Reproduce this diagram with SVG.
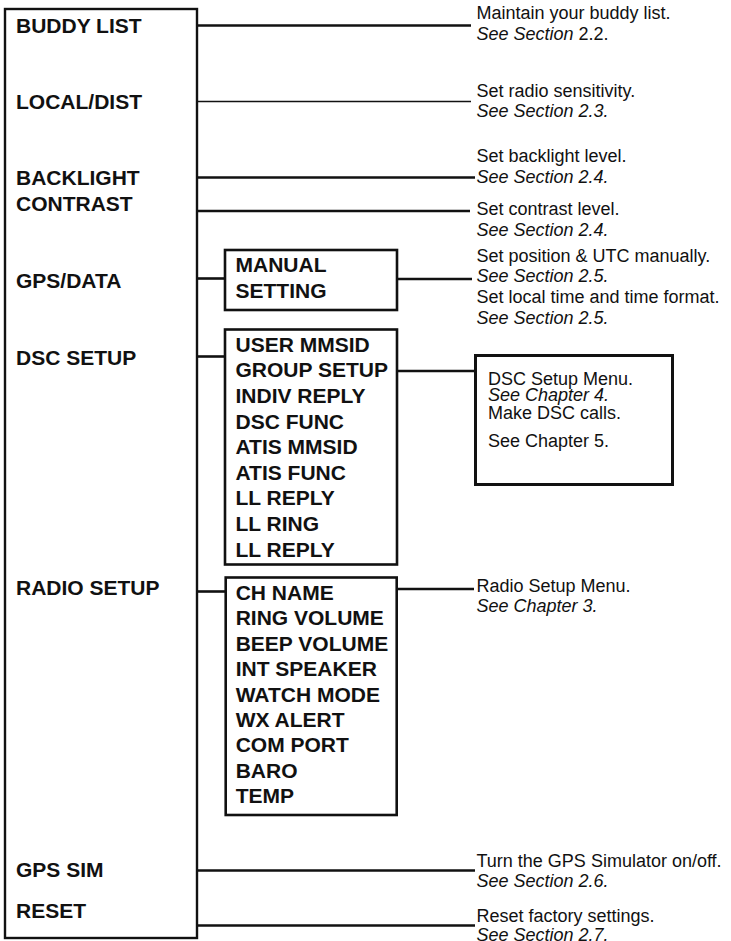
<svg xmlns="http://www.w3.org/2000/svg" width="731" height="941" viewBox="0 0 731 941">
<style>
.box{fill:#fff;stroke:#111;stroke-width:2.4}
.b{font-family:"Liberation Sans",Arial,sans-serif;font-weight:bold;font-size:21px;fill:#111}
.t{font-family:"Liberation Sans",Arial,sans-serif;font-size:18px;fill:#111}
.i{font-style:italic}
.ln{stroke:#111;stroke-width:2.6;fill:none}
</style>
<rect width="731" height="941" fill="#fff"/>
<g id="connectors">
<line class="ln" x1="197" y1="25.5" x2="471" y2="25.5"/>
<line class="ln" x1="197" y1="101.5" x2="471" y2="101.5" style="stroke-width:1.7"/>
<line class="ln" x1="197" y1="177.5" x2="475" y2="177.5"/>
<line class="ln" x1="197" y1="211" x2="470" y2="211"/>
<line class="ln" x1="197" y1="278.5" x2="225" y2="278.5"/>
<line class="ln" x1="397" y1="279" x2="472" y2="279"/>
<line class="ln" x1="197" y1="356.5" x2="225" y2="356.5"/>
<line class="ln" x1="397" y1="371" x2="475" y2="371"/>
<line class="ln" x1="197" y1="591.5" x2="225" y2="591.5"/>
<line class="ln" x1="397" y1="589" x2="474" y2="589"/>
<line class="ln" x1="197" y1="870.5" x2="475" y2="870.5"/>
<line class="ln" x1="197" y1="925.5" x2="475" y2="925.5"/>
</g>
<g id="main-menu">
<rect class="box" x="5" y="9" width="192" height="929"/>
<text class="b" x="16" y="32.5">BUDDY LIST</text>
<text class="b" x="16" y="108.5">LOCAL/DIST</text>
<text class="b" x="16" y="185">BACKLIGHT</text>
<text class="b" x="16" y="210.7">CONTRAST</text>
<text class="b" x="16" y="288.3">GPS/DATA</text>
<text class="b" x="16" y="365">DSC SETUP</text>
<text class="b" x="16" y="595">RADIO SETUP</text>
<text class="b" x="16" y="876.7">GPS SIM</text>
<text class="b" x="16" y="918.3">RESET</text>
</g>
<g id="gps-submenu">
<rect class="box" x="225" y="250" width="172" height="60" style="stroke-width:2.6"/>
<text class="b" x="235.5" y="271.7">MANUAL</text>
<text class="b" x="235.5" y="297.7">SETTING</text>
</g>
<g id="dsc-submenu">
<rect class="box" x="225" y="329.5" width="172" height="235" style="stroke-width:2.6"/>
<text class="b" x="235.5" y="351.7">USER MMSID</text>
<text class="b" x="235.5" y="377.3">GROUP SETUP</text>
<text class="b" x="235.5" y="402.9">INDIV REPLY</text>
<text class="b" x="235.5" y="428.5">DSC FUNC</text>
<text class="b" x="235.5" y="454.1">ATIS MMSID</text>
<text class="b" x="235.5" y="479.7">ATIS FUNC</text>
<text class="b" x="235.5" y="505.3">LL REPLY</text>
<text class="b" x="235.5" y="530.9">LL RING</text>
<text class="b" x="235.5" y="556.5">LL REPLY</text>
</g>
<g id="radio-submenu">
<rect class="box" x="225.7" y="577.5" width="171" height="237.5" style="stroke-width:2.6"/>
<text class="b" x="235.7" y="600">CH NAME</text>
<text class="b" x="235.7" y="625.4">RING VOLUME</text>
<text class="b" x="235.7" y="650.8">BEEP VOLUME</text>
<text class="b" x="235.7" y="676.2">INT SPEAKER</text>
<text class="b" x="235.7" y="701.6">WATCH MODE</text>
<text class="b" x="235.7" y="727">WX ALERT</text>
<text class="b" x="235.7" y="752.4">COM PORT</text>
<text class="b" x="235.7" y="777.8">BARO</text>
<text class="b" x="235.7" y="803.2">TEMP</text>
</g>
<g id="desc-buddy">
<text class="t" x="476.5" y="19">Maintain your buddy list.</text>
<text class="t" x="476.5" y="40"><tspan class="i">See Section</tspan> 2.2.</text>
</g>
<g id="desc-local">
<text class="t" x="476.5" y="96.7">Set radio sensitivity.</text>
<text class="t i" x="476.5" y="117">See Section 2.3.</text>
</g>
<g id="desc-backlight">
<text class="t" x="476.5" y="161.7">Set backlight level.</text>
<text class="t i" x="476.5" y="182.5">See Section 2.4.</text>
</g>
<g id="desc-contrast">
<text class="t" x="476.5" y="215.3">Set contrast level.</text>
<text class="t i" x="476.5" y="236.3">See Section 2.4.</text>
</g>
<g id="desc-gps">
<text class="t" x="476.5" y="261.7">Set position &amp; UTC manually.</text>
<text class="t i" x="476.5" y="282">See Section 2.5.</text>
<text class="t" x="476.5" y="303.3">Set local time and time format.</text>
<text class="t i" x="476.5" y="324">See Section 2.5.</text>
</g>
<g id="desc-dsc">
<rect class="box" x="475.5" y="355.5" width="197" height="129" style="stroke-width:3"/>
<text class="t" x="488" y="385">DSC Setup Menu.</text>
<text class="t i" x="488" y="400.5">See Chapter 4.</text>
<text class="t" x="488" y="418.5">Make DSC calls.</text>
<text class="t" x="488" y="447">See Chapter 5.</text>
</g>
<g id="desc-radio">
<text class="t" x="476.5" y="591.7">Radio Setup Menu.</text>
<text class="t i" x="476.5" y="612">See Chapter 3.</text>
</g>
<g id="desc-gpssim">
<text class="t" x="476.5" y="866.7">Turn the GPS Simulator on/off.</text>
<text class="t i" x="476.5" y="887">See Section 2.6.</text>
</g>
<g id="desc-reset">
<text class="t" x="476.5" y="921.7">Reset factory settings.</text>
<text class="t i" x="476.5" y="941">See Section 2.7.</text>
</g>
</svg>
